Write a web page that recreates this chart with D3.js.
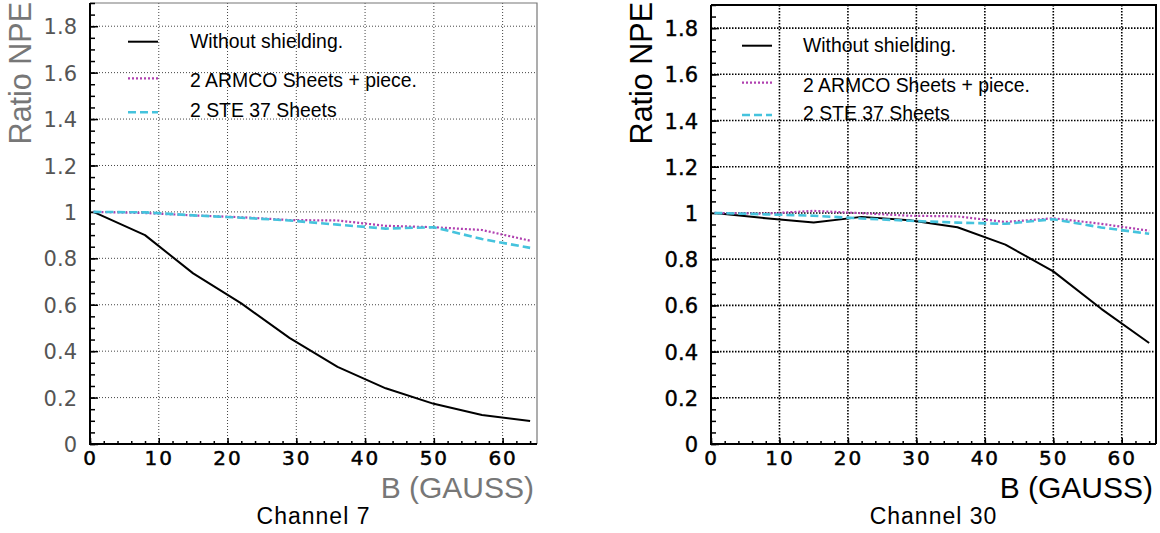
<!DOCTYPE html>
<html>
<head>
<meta charset="utf-8">
<script src="https://cdn.jsdelivr.net/npm/d3@7"></script>
<style>
  body { margin: 0; background: #fff; }
  svg { display: block; }
  .tick-lbl { font-family: "DejaVu Sans", sans-serif; }
  .txt { font-family: "Liberation Sans", Arial, sans-serif; }
</style>
</head>
<body>
<svg id="chart" width="1160" height="533"></svg>
<script>

//////////////////////////////////////////////////////////////
///////////////////////// Data ///////////////////////////////
//////////////////////////////////////////////////////////////

var bField = [0.5, 8, 15, 22, 29, 36, 43, 50, 57, 64];

var ch7NoShield = [1.0, 0.90, 0.735, 0.606, 0.457, 0.332, 0.24, 0.173, 0.125, 0.099];
var ch7Armco    = [1.0, 0.995, 0.985, 0.977, 0.965, 0.963, 0.94, 0.934, 0.922, 0.876];
var ch7Ste37    = [1.0, 0.998, 0.985, 0.975, 0.963, 0.945, 0.928, 0.934, 0.883, 0.845];

var ch30NoShield = [1.0, 0.977, 0.959, 0.983, 0.968, 0.938, 0.863, 0.747, 0.585, 0.437];
var ch30Armco    = [1.0, 0.997, 1.009, 0.999, 0.988, 0.985, 0.961, 0.977, 0.953, 0.923];
var ch30Ste37    = [1.0, 0.994, 0.988, 0.976, 0.966, 0.958, 0.953, 0.973, 0.937, 0.910];

var seriesLabels = ["Without shielding.", "2 ARMCO Sheets + piece.", "2 STE 37 Sheets"];
var channelTitles = ["Channel 7", "Channel 30"];

var xTicks = [0, 10, 20, 30, 40, 50, 60];
var yTicks = [0, 0.2, 0.4, 0.6, 0.8, 1, 1.2, 1.4, 1.6, 1.8];

//////////////////////////////////////////////////////////////
//////////////////////// Styles //////////////////////////////
//////////////////////////////////////////////////////////////

var lineStyles = [
  {stroke: "#000", width: 2, dash: null},
  {stroke: "#b040b0", width: 2.2, dash: "2,2"},
  {stroke: "#45c3dd", width: 2.6, dash: "8,4"}
];

var panels = [
  {
    left: 90, right: 537, top: 3, bottom: 444,
    series: [ch7NoShield, ch7Armco, ch7Ste37],
    title: channelTitles[0],
    yLblColor: "#777", yTickColor: "#555", xTickColor: "#000", xLblColor: "#777",
    yTickStroke: 0, frameColor: "#777", frameWidth: 1.2,
    gridColor: "#444", gridWidth: 1, gridDash: "1,2",
    legSample: [38, 68], legText: 100,
    legY: [41.7, 78.3, 112.3], legBase: [47.7, 86.7, 116.7]
  },
  {
    left: 711, right: 1156, top: 5, bottom: 444,
    series: [ch30NoShield, ch30Armco, ch30Ste37],
    title: channelTitles[1],
    yLblColor: "#000", yTickColor: "#000", xTickColor: "#000", xLblColor: "#000",
    yTickStroke: 0.4, frameColor: "#000", frameWidth: 2,
    gridColor: "#000", gridWidth: 1.6, gridDash: "1.5,1.5",
    legSample: [31, 61], legText: 92,
    legY: [45.7, 82.7, 115], legBase: [51.7, 91.7, 120]
  }
];

var svg = d3.select("#chart");

panels.forEach(function(p) { drawPanel(p); });

function drawPanel(p) {
  var w = p.right - p.left;
  var h = p.bottom - p.top;

  var x = d3.scaleLinear().domain([0, 65]).range([0, w]);
  var y = d3.scaleLinear().domain([0, 1.9]).range([h, 0]);

  var g = svg.append("g")
    .attr("transform", "translate(" + p.left + "," + p.top + ")");

  //Dotted grid
  var grid = g.append("g").attr("class", "grid");
  grid.selectAll(".vgrid")
    .data(xTicks.filter(function(d) { return d > 0; }))
    .enter().append("line")
    .attr("x1", function(d) { return x(d); })
    .attr("x2", function(d) { return x(d); })
    .attr("y1", 0).attr("y2", h);
  grid.selectAll(".hgrid")
    .data(yTicks.filter(function(d) { return d > 0; }))
    .enter().append("line")
    .attr("y1", function(d) { return y(d); })
    .attr("y2", function(d) { return y(d); })
    .attr("x1", 0).attr("x2", w);
  grid.selectAll("line")
    .style("stroke", p.gridColor)
    .style("stroke-width", p.gridWidth)
    .style("stroke-dasharray", p.gridDash);

  //Frame: top and right
  g.append("path")
    .attr("d", "M0,0 H" + w + " V" + h)
    .style("fill", "none")
    .style("stroke", p.frameColor)
    .style("stroke-width", p.frameWidth);

  //Y axis - minor ticks then major ticks with labels
  g.append("g")
    .call(d3.axisLeft(y).tickValues(d3.range(0, 1.901, 0.05)).tickSize(-5).tickFormat(""))
    .call(function(a) { a.select(".domain").remove(); a.selectAll("line").style("stroke", "#000").style("stroke-width", 1.5); });

  var yAxis = g.append("g")
    .call(d3.axisLeft(y).tickValues(yTicks).tickSize(-8).tickPadding(13).tickFormat(d3.format("~g")));
  yAxis.select(".domain").remove();
  yAxis.selectAll("line").style("stroke", "#000").style("stroke-width", 1.5);
  yAxis.selectAll("text")
    .attr("class", "tick-lbl")
    .attr("dy", "0.36em")
    .style("font-size", "21px")
    .style("fill", p.yTickColor)
    .style("stroke", p.yTickColor)
    .style("stroke-width", p.yTickStroke);

  //X axis - minor ticks then major ticks with labels
  g.append("g")
    .attr("transform", "translate(0," + h + ")")
    .call(d3.axisBottom(x).tickValues(d3.range(0, 65, 2)).tickSize(-3).tickFormat(""))
    .call(function(a) { a.select(".domain").remove(); a.selectAll("line").style("stroke", "#000").style("stroke-width", 1.5); });

  var xAxis = g.append("g")
    .attr("transform", "translate(0," + h + ")")
    .call(d3.axisBottom(x).tickValues(xTicks).tickSize(-6).tickPadding(7).tickFormat(d3.format("d")));
  xAxis.select(".domain").remove();
  xAxis.selectAll("line").style("stroke", "#000").style("stroke-width", 1.5);
  xAxis.selectAll("text")
    .attr("class", "tick-lbl")
    .attr("dy", "0.71em")
    .style("font-size", "20px")
    .style("letter-spacing", "2px")
    .style("fill", p.xTickColor)
    .style("stroke", p.xTickColor)
    .style("stroke-width", 0.5);

  //Left and bottom axis lines
  g.append("path")
    .attr("d", "M0,0 V" + h + " H" + w)
    .style("fill", "none")
    .style("stroke", "#000")
    .style("stroke-width", 2);

  //Series lines
  var line = d3.line()
    .x(function(d, i) { return x(bField[i]); })
    .y(function(d) { return y(d); });

  p.series.forEach(function(s, i) {
    g.append("path")
      .datum(s)
      .attr("d", line)
      .style("fill", "none")
      .style("stroke", lineStyles[i].stroke)
      .style("stroke-width", lineStyles[i].width)
      .style("stroke-dasharray", lineStyles[i].dash)
      .style("stroke-linejoin", "round");
  });

  //Legend
  var legend = g.append("g").attr("class", "legend");
  seriesLabels.forEach(function(lbl, i) {
    legend.append("line")
      .attr("x1", p.legSample[0]).attr("x2", p.legSample[1])
      .attr("y1", p.legY[i] - p.top).attr("y2", p.legY[i] - p.top)
      .style("stroke", lineStyles[i].stroke)
      .style("stroke-width", lineStyles[i].width)
      .style("stroke-dasharray", lineStyles[i].dash);
    legend.append("text")
      .attr("class", "txt")
      .attr("x", p.legText)
      .attr("y", p.legBase[i] - p.top)
      .style("font-size", "19.4px")
      .style("fill", "#000")
      .text(lbl);
  });

  //Axis titles
  g.append("text")
    .attr("class", "txt")
    .attr("transform", "translate(" + (-59) + "," + (2 - p.top) + ") rotate(-90)")
    .attr("text-anchor", "end")
    .style("font-size", "30.5px")
    .style("fill", p.yLblColor)
    .text("Ratio NPE");

  g.append("text")
    .attr("class", "txt")
    .attr("x", w - 3)
    .attr("y", 498 - p.top)
    .attr("text-anchor", "end")
    .style("font-size", "30px")
    .style("fill", p.xLblColor)
    .text("B (GAUSS)");

  g.append("text")
    .attr("class", "txt")
    .attr("x", w / 2)
    .attr("y", 524 - p.top)
    .attr("text-anchor", "middle")
    .style("font-size", "23px")
    .style("letter-spacing", "1px")
    .style("fill", "#000")
    .text(p.title);
}

</script>
</body>
</html>
